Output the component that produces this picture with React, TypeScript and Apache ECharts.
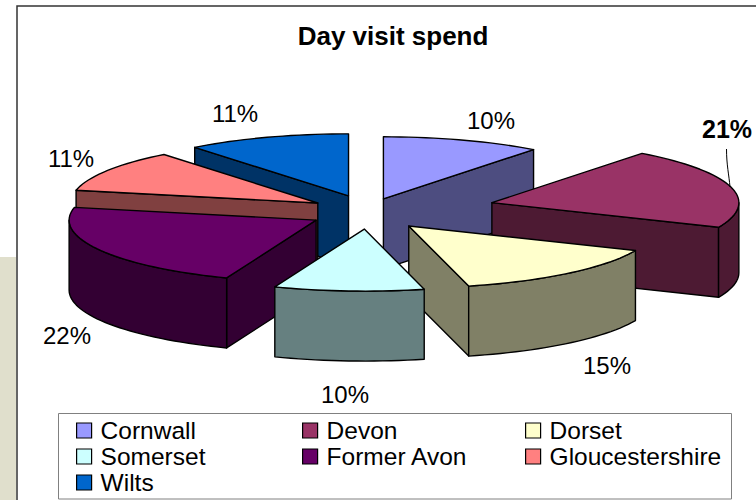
import React, { useEffect, useRef } from "react";
import * as echarts from "echarts";

const FONT = '"Liberation Sans", Arial, sans-serif';

const regions = ["Cornwall", "Devon", "Dorset", "Somerset", "Former Avon", "Gloucestershire", "Wilts"];
const shares = [10.4, 21.1, 14.6, 9.8, 22.4, 11.0, 10.7];
const topColors = ["#9999FF", "#993366", "#FFFFCC", "#CCFFFF", "#660066", "#FF8080", "#0066CC"];
const wallColors = ["#4D4D80", "#4D1A33", "#808066", "#668080", "#330033", "#804040", "#003366"];

// layout only
const explode = [48, 128, 63, 59, 59, 59, 59];
const labelAnchors = [[491, 120], [727, 129], [607, 365], [345, 394], [67, 335], [71, 158], [235, 113]];
const legendColumns = [
  { left: 76, names: ["Cornwall", "Somerset", "Wilts"] },
  { left: 302, names: ["Devon", "Former Avon"] },
  { left: 525, names: ["Dorset", "Gloucestershire"] },
];
const CX = 368, CY = 212, RX = 247, RY = 62, DEPTH = 70, EXPLODE_Y = 0.29;
const STROKE = 1.4;

const rad = (d: number) => (d * Math.PI) / 180;
const total = shares.reduce((a, b) => a + b, 0);

function sliceGeom(i: number, value: number) {
  const before = shares.slice(0, i).reduce((a, b) => a + b, 0);
  const a0 = (before / total) * 360;
  const a1 = a0 + (value / total) * 360;
  const mid = rad((a0 + a1) / 2);
  const ax = CX + explode[i] * Math.sin(mid);
  const ay = CY - explode[i] * EXPLODE_Y * Math.cos(mid);
  const rim = (deg: number): [number, number] => [ax + RX * Math.sin(rad(deg)), ay - RY * Math.cos(rad(deg))];
  return { a0, a1, ax, ay, rim };
}

const arcPts = (rim: (d: number) => [number, number], from: number, to: number) => {
  const n = Math.max(2, Math.ceil((to - from) / 2));
  const out: [number, number][] = [];
  for (let k = 0; k <= n; k++) out.push(rim(from + ((to - from) * k) / n));
  return out;
};

const down = (p: [number, number]): [number, number] => [p[0], p[1] + DEPTH];

function makeRenderItem(i: number) {
  return (_params: any, api: any) => {
    const { a0, a1, ax, ay, rim } = sliceGeom(i, api.value(0));
    const apex: [number, number] = [ax, ay];
    const wall = { fill: wallColors[i], stroke: "#000", lineWidth: STROKE, lineJoin: "round" };
    const children: any[] = [];
    if (Math.sin(rad(a0)) < -1e-6) {
      const p = rim(a0);
      children.push({ type: "polygon", shape: { points: [apex, p, down(p), down(apex)] }, style: wall });
    }
    if (Math.sin(rad(a1)) > 1e-6) {
      const p = rim(a1);
      children.push({ type: "polygon", shape: { points: [apex, p, down(p), down(apex)] }, style: wall });
    }
    const f0 = Math.max(a0, 90), f1 = Math.min(a1, 270);
    if (f1 > f0) {
      const arc = arcPts(rim, f0, f1);
      children.push({
        type: "polygon",
        shape: { points: [...arc, ...arc.slice().reverse().map(down)] },
        style: wall,
      });
    }
    children.push({
      type: "polygon",
      shape: { points: [apex, ...arcPts(rim, a0, a1)] },
      style: { fill: topColors[i], stroke: "#000", lineWidth: STROKE, lineJoin: "round" },
    });
    return { type: "group", children };
  };
}

const zRank = regions
  .map((_, i) => ({ i, y: sliceGeom(i, shares[i]).ay }))
  .sort((a, b) => a.y - b.y)
  .map((d) => d.i);

export default function App() {
  const ref = useRef<HTMLDivElement>(null);
  useEffect(() => {
    const chart = echarts.init(ref.current!, null, { renderer: "svg" });
    chart.setOption({
      animation: false,
      backgroundColor: "#fff",
      title: {
        text: "Day visit spend",
        left: 388,
        top: 18,
        textAlign: "center",
        textStyle: { fontFamily: FONT, fontSize: 26, fontWeight: "bold", color: "#000" },
      },
      legend: legendColumns.map((c) => ({
        orient: "vertical",
        left: c.left,
        top: 418,
        padding: 0,
        itemGap: 1,
        itemWidth: 15,
        itemHeight: 15,
        icon: "rect",
        selectedMode: false,
        data: c.names,
        itemStyle: { borderColor: "#000", borderWidth: 1.2 },
        textStyle: { fontFamily: FONT, fontSize: 24.5, color: "#000", lineHeight: 24, padding: [0, 0, 0, 4] },
      })),
      series: zRank.map((i, rank) => ({
        type: "custom",
        name: regions[i],
        coordinateSystem: "none",
        z: 3 + rank,
        silent: true,
        itemStyle: { color: topColors[i] },
        data: [[shares[i]]],
        renderItem: makeRenderItem(i),
      })),
      graphic: [
        { type: "rect", silent: true, z: 0, shape: { x: 0, y: 257, width: 16, height: 243 }, style: { fill: "#E0DFCC" } },
        { type: "rect", silent: true, z: 1, shape: { x: 17, y: 6, width: 760, height: 520 }, style: { fill: "#fff", stroke: "#333", lineWidth: 1.5 } },
        { type: "rect", silent: true, z: 2, shape: { x: 58.5, y: 413.5, width: 673, height: 85.5 }, style: { fill: "#fff", stroke: "#808080", lineWidth: 1 } },
        {
          type: "bezierCurve", silent: true, z: 20,
          shape: { x1: 726.5, y1: 149, cpx1: 726.5, cpy1: 165, cpx2: 729, cpy2: 175, x2: 730, y2: 187 },
          style: { stroke: "#000", lineWidth: 1, fill: "none" },
        },
        ...shares.map((v, i) => ({
          type: "text",
          silent: true,
          z: 20,
          x: labelAnchors[i][0],
          y: labelAnchors[i][1],
          style: {
            text: `${Math.round(v)}%`,
            fill: "#000",
            font: `${i === 1 ? "bold " : ""}${i === 1 ? 25 : 24}px ${FONT}`,
            textAlign: "center",
            textVerticalAlign: "middle",
          },
        })),
      ],
    });
    return () => chart.dispose();
  }, []);
  return <div ref={ref} style={{ position: "absolute", left: 0, top: 0, width: 756, height: 500 }} />;
}
